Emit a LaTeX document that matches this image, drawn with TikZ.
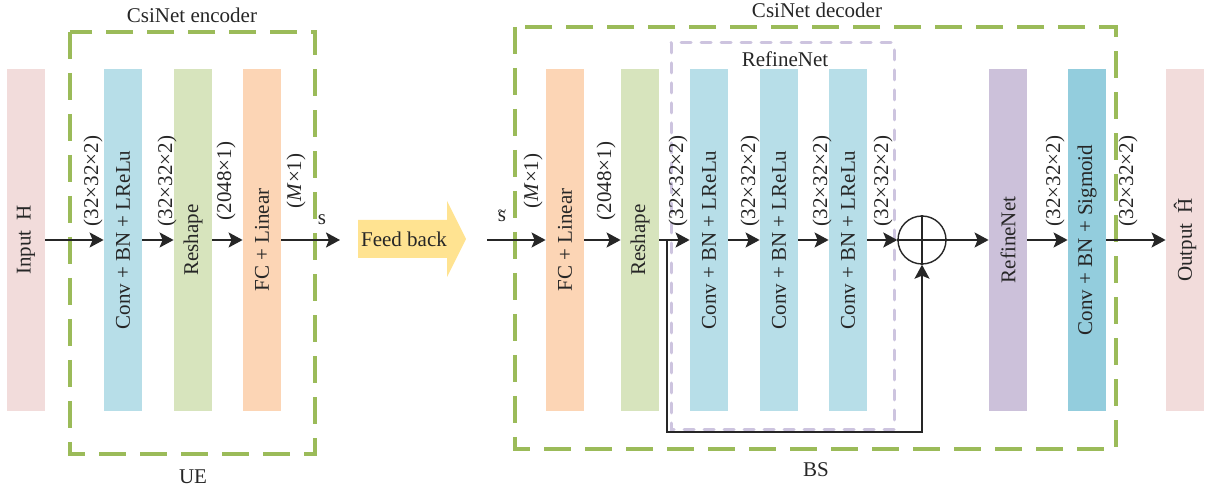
\documentclass[tikz,border=0pt]{standalone}
\usepackage{fontspec}
\setmainfont{Liberation Serif}
\usepackage{xcolor}
\usepackage{tikz}
\usetikzlibrary{positioning,arrows.meta,shapes}
\definecolor{inpink}{HTML}{F2DCDB}
\definecolor{convblue}{HTML}{B7DEE8}
\definecolor{sigblue}{HTML}{93CDDD}
\definecolor{resgreen}{HTML}{D7E4BD}
\definecolor{fcpeach}{HTML}{FCD5B5}
\definecolor{reflav}{HTML}{CCC1DA}
\definecolor{fbyellow}{HTML}{FFE391}
\definecolor{boxgreen}{HTML}{9BBB59}
\definecolor{boxlav}{HTML}{CDC4DF}
\definecolor{ink}{HTML}{262626}
\tikzset{
blk/.style={minimum width=19pt, minimum height=171pt, inner sep=0pt},
arr/.style={ink, line width=1pt, -{Stealth[length=7pt,width=7.5pt,inset=1.5pt]}},
grnbox/.style={boxgreen, line width=1.6pt, dash pattern=on 13.5pt off 7pt},
lavbox/.style={boxlav, line width=1.5pt, line cap=round, dash pattern=on 5pt off 5pt},
dimlab/.style={rotate=90, inner sep=0pt}
}
\newcommand{\vtext}[1]{\rotatebox{90}{#1}}
\newcommand{\sizeA}{(32×32×2)}
\newcommand{\stil}{\vbox{\offinterlineskip\hbox to 6pt{\hss\footnotesize\textasciitilde\hss}\kern-2.5pt\hbox to 6pt{\hss s\hss}}}

\begin{document}
\begin{tikzpicture}[x=0.5pt, y=-0.5pt, font=\fontsize{10.5}{12}\selectfont, text=ink]
\useasboundingbox (0,0) rectangle (1208,490);

% encoder (UE)
\draw[grnbox] (70,32) rectangle (315,454);
\node (encT) at (192,15) {CsiNet encoder};
\node (ue) at (193,477) {UE};
\node[blk, fill=inpink] (inH) at (26,240) {\vtext{Input\enspace H}};
\node[blk, fill=convblue] (cvE) at (123,240) {\vtext{Conv + BN + LReLu}};
\node[blk, fill=resgreen] (reE) at (193,240) {\vtext{Reshape}};
\node[blk, fill=fcpeach] (fcE) at (262,240) {\vtext{FC + Linear}};
\coordinate (sE) at (340,240);
\draw[arr] (inH) -- (cvE);
\draw[arr] (cvE) -- (reE);
\draw[arr] (reE) -- (fcE);
\draw[arr] (fcE) -- (sE);
\node (sl) at (322,220) {s};
\node[dimlab] (d1) at (93,181) {\sizeA};
\node[dimlab] (d2) at (167,181) {\sizeA};
\node[dimlab] (d3) at (226,181) {(2048×1)};
\node[dimlab] (d4) at (296,181) {(\textit{M}×1)};

% feedback arrow
\fill[fbyellow] (358,220) -- (447,220) -- (447,201) -- (466,239) -- (447,277) -- (447,258) -- (358,258) -- cycle;
\node (fb) at (404,239) {Feed back};

% decoder (BS)
\draw[grnbox] (515,27) rectangle (1116,449);
\draw[lavbox] (671,43) rectangle (894,430);
\node (decT) at (817,10) {CsiNet decoder};
\node (bs) at (816,470) {BS};
\node (rnT) at (785,59) {RefineNet};
\node[blk, fill=fcpeach] (fcD) at (565,240) {\vtext{FC + Linear}};
\node[blk, fill=resgreen] (reD) at (640,240) {\vtext{Reshape}};
\node[blk, fill=convblue] (cv1) at (709,240) {\vtext{Conv + BN + LReLu}};
\node[blk, fill=convblue] (cv2) at (779,240) {\vtext{Conv + BN + LReLu}};
\node[blk, fill=convblue] (cv3) at (848,240) {\vtext{Conv + BN + LReLu}};
\node[circle, draw=ink, line width=0.7pt, minimum size=24pt, inner sep=0pt] (add) at (922,240) {};
\draw[ink, line width=0.7pt] (add.north) -- (add.south) (add.west) -- (add.east);
\node[blk, fill=reflav] (rfn) at (1008,240) {\vtext{RefineNet}};
\node[blk, fill=sigblue] (cvS) at (1087,240) {\vtext{Conv + BN + Sigmoid}};
\node[blk, fill=inpink] (outH) at (1185,240) {\vtext{Output\enspace \^{H}}};
\coordinate (sD) at (487,240);
\coordinate (br) at (667,240);
\node (sdl) at (502,216) {\stil};
\draw[arr] (sD) -- (fcD);
\draw[arr] (fcD) -- (reD);
\draw[arr] (reD) -- (cv1);
\draw[arr] (cv1) -- (cv2);
\draw[arr] (cv2) -- (cv3);
\draw[arr] (cv3) -- (add);
\draw[arr] (add) -- (rfn);
\draw[arr] (rfn) -- (cvS);
\draw[arr] (cvS) -- (outH);
\draw[arr] (br) -- ++(0,192) -| (add.south);
\node[dimlab] (d5) at (533,181) {(\textit{M}×1)};
\node[dimlab] (d6) at (606,181) {(2048×1)};
\node[dimlab] (d7) at (678,181) {\sizeA};
\node[dimlab] (d8) at (750,181) {\sizeA};
\node[dimlab] (d9) at (822,181) {\sizeA};
\node[dimlab] (d10) at (883,181) {\sizeA};
\node[dimlab] (d11) at (1055,181) {\sizeA};
\node[dimlab] (d12) at (1128,181) {\sizeA};
\end{tikzpicture}
\end{document}
